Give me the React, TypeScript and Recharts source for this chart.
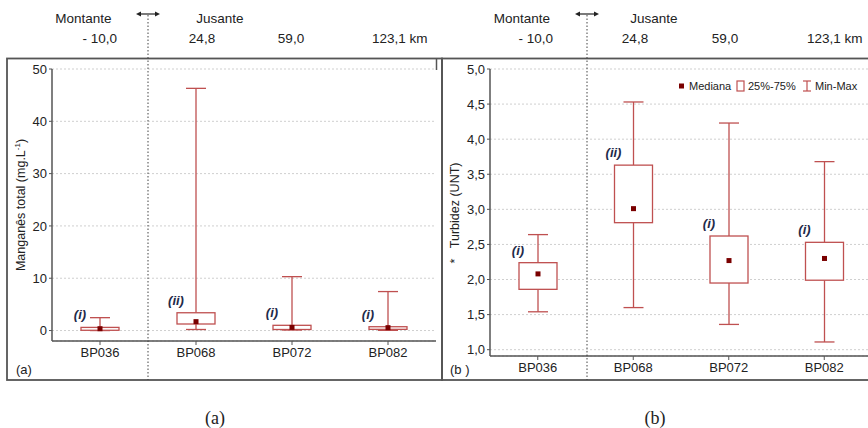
import React from 'react';
import { ComposedChart, Bar, XAxis, YAxis, CartesianGrid } from 'recharts';

// ---------- data ----------
const stations = ['BP036', 'BP068', 'BP072', 'BP082'];
const groupTags = ['(i)', '(ii)', '(i)', '(i)'];
const distanceLabels = ['- 10,0', '24,8', '59,0', '123,1 km'];

// Manganês total (mg.L-1)
const mnMin = [0.0, 0.2, 0.1, 0.04];
const mnQ1 = [0.05, 1.25, 0.2, 0.23];
const mnMedian = [0.35, 1.7, 0.6, 0.55];
const mnQ3 = [0.6, 3.4, 1.0, 0.73];
const mnMax = [2.46, 46.3, 10.3, 7.45];
const mnTicks = [0, 10, 20, 30, 40, 50];

// Turbidez (UNT)
const tuMin = [1.54, 1.6, 1.36, 1.11];
const tuQ1 = [1.86, 2.81, 1.95, 1.99];
const tuMedian = [2.08, 3.01, 2.27, 2.3];
const tuQ3 = [2.24, 3.63, 2.62, 2.53];
const tuMax = [2.64, 4.53, 4.23, 3.68];
const tuTicks = [1, 1.5, 2, 2.5, 3, 3.5, 4, 4.5, 5];

const legendItems = ['Mediana', '25%-75%', 'Min-Max'];

// ---------- styles ----------
const FONT = '"Liberation Sans", Arial, Helvetica, sans-serif';
const SERIF = '"Liberation Serif", "DejaVu Serif", serif';
const BOX = '#bf5050';
const MED = '#7a0000';
const TAG = '#1f2b4a';
const AXIS = '#555';
const TXT = '#222';

function makeRows(mins: number[], q1s: number[], meds: number[], q3s: number[], maxs: number[]) {
  return stations.map((name, i) => ({
    name,
    tag: groupTags[i],
    range: [mins[i], maxs[i]],
    min: mins[i],
    q1: q1s[i],
    median: meds[i],
    q3: q3s[i],
    max: maxs[i],
  }));
}

const mnRows = makeRows(mnMin, mnQ1, mnMedian, mnQ3, mnMax);
const tuRows = makeRows(tuMin, tuQ1, tuMedian, tuQ3, tuMax);

const BoxShape = (props: any) => {
  const { x, y, width, height, payload } = props;
  if (!payload || x == null) return null;
  const top = Math.min(y, y + height);
  const bottom = Math.max(y, y + height);
  const { min, max, q1, median, q3, tag } = payload;
  const span = max - min || 1;
  const px = (v: number) => bottom - ((v - min) / span) * (bottom - top);
  const cx = x + width / 2;
  const cap = 10;
  const yQ1 = px(q1);
  const yQ3 = px(q3);
  const yMed = px(median);
  return (
    <g>
      <line x1={cx} x2={cx} y1={top} y2={yQ3} stroke={BOX} strokeWidth={1.3} />
      <line x1={cx} x2={cx} y1={yQ1} y2={bottom} stroke={BOX} strokeWidth={1.3} />
      <line x1={cx - cap} x2={cx + cap} y1={top} y2={top} stroke={BOX} strokeWidth={1.3} />
      <line x1={cx - cap} x2={cx + cap} y1={bottom} y2={bottom} stroke={BOX} strokeWidth={1.3} />
      <rect x={x} y={yQ3} width={width} height={Math.max(yQ1 - yQ3, 0.8)} fill="#fff" stroke={BOX} strokeWidth={1.3} />
      <rect x={cx - 2.5} y={yMed - 2.5} width={5} height={5} fill={MED} />
      <text
        x={cx - 20}
        y={yQ3 - 8}
        textAnchor="middle"
        fontStyle="italic"
        fontWeight={700}
        fontSize={13}
        fontFamily={FONT}
        fill={TAG}
      >
        {tag}
      </text>
    </g>
  );
};

const tickStyle = { fontSize: 13, fill: TXT, fontFamily: FONT };

function BoxChart(props: {
  rows: any[];
  domain: [number, number];
  ticks: number[];
  width: number;
  margin: any;
  yWidth: number;
  fmt: (v: number) => string;
}) {
  const { rows, domain, ticks, width, margin, yWidth, fmt } = props;
  return (
    <ComposedChart width={width} height={428} data={rows} margin={margin}>
      <CartesianGrid horizontal vertical={false} stroke="#cfcfcf" strokeDasharray="2 2" />
      <XAxis
        dataKey="name"
        height={30}
        tick={tickStyle}
        tickSize={4}
        tickMargin={3}
        axisLine={{ stroke: AXIS, strokeWidth: 1.5 }}
        tickLine={{ stroke: AXIS }}
      />
      <XAxis
        xAxisId="top"
        dataKey="name"
        orientation="top"
        height={0}
        tick={false}
        tickLine={false}
        axisLine={{ stroke: AXIS, strokeWidth: 1.5 }}
      />
      <YAxis
        domain={domain}
        ticks={ticks}
        type="number"
        allowDataOverflow
        width={yWidth}
        tick={tickStyle}
        tickSize={3}
        tickMargin={2}
        tickFormatter={fmt}
        axisLine={{ stroke: AXIS, strokeWidth: 1.5 }}
        tickLine={{ stroke: AXIS }}
      />
      <YAxis
        yAxisId="right"
        orientation="right"
        domain={domain}
        type="number"
        width={0}
        tick={false}
        tickLine={false}
        axisLine={{ stroke: AXIS, strokeWidth: 1.5 }}
      />
      <Bar dataKey="range" barSize={38} isAnimationActive={false} shape={(p: any) => <BoxShape {...p} />} />
    </ComposedChart>
  );
}

const Overlay = () => {
  const t = { fontFamily: FONT, fontSize: 13.5, fill: TXT } as any;
  const arrow = (cx: number) => (
    <g>
      <line x1={cx - 10} x2={cx + 10} y1={14} y2={14} stroke="#222" strokeWidth={1.2} />
      <path d={`M${cx - 12} 14 L${cx - 7} 11.5 L${cx - 7} 16.5 Z`} fill="#222" />
      <path d={`M${cx + 12} 14 L${cx + 7} 11.5 L${cx + 7} 16.5 Z`} fill="#222" />
      <line x1={cx} x2={cx} y1={15} y2={380} stroke="#444" strokeWidth={1} strokeDasharray="1.5 2" />
    </g>
  );
  return (
    <svg width={868} height={428} style={{ position: 'absolute', left: 0, top: 0, pointerEvents: 'none' }}>
      {/* frames */}
      <rect x={7} y={58.5} width={435} height={321.5} fill="none" stroke={AXIS} strokeWidth={1.8} />
      <rect x={442} y={58.5} width={440} height={321.5} fill="none" stroke={AXIS} strokeWidth={1.8} />
      <line x1={436.5} x2={436.5} y1={58.5} y2={70} stroke={AXIS} strokeWidth={1.5} />

      {/* separators */}
      {arrow(148)}
      {arrow(587)}

      {/* top labels, left */}
      <text x={83.5} y={23} textAnchor="middle" {...t}>Montante</text>
      <text x={220} y={23} textAnchor="middle" {...t}>Jusante</text>
      <text x={117} y={43} textAnchor="end" {...t}>{distanceLabels[0]}</text>
      <text x={202} y={43} textAnchor="middle" {...t}>{distanceLabels[1]}</text>
      <text x={291} y={43} textAnchor="middle" {...t}>{distanceLabels[2]}</text>
      <text x={372} y={43} textAnchor="start" {...t}>{distanceLabels[3]}</text>

      {/* top labels, right */}
      <text x={522} y={23} textAnchor="middle" {...t}>Montante</text>
      <text x={654} y={23} textAnchor="middle" {...t}>Jusante</text>
      <text x={553} y={43} textAnchor="end" {...t}>{distanceLabels[0]}</text>
      <text x={635} y={43} textAnchor="middle" {...t}>{distanceLabels[1]}</text>
      <text x={725} y={43} textAnchor="middle" {...t}>{distanceLabels[2]}</text>
      <text x={807} y={43} textAnchor="start" {...t}>{distanceLabels[3]}</text>

      {/* axis titles */}
      <text
        x={21}
        y={205}
        transform="rotate(-90 21 205)"
        textAnchor="middle"
        dominantBaseline="central"
        fontFamily={FONT}
        fontSize={12.5}
        fill={TXT}
      >
        Manganês total (mg.L<tspan dy={-4} fontSize={8}>-1</tspan><tspan dy={4}>)</tspan>
      </text>
      <text
        x={455}
        y={213}
        transform="rotate(-90 455 213)"
        textAnchor="middle"
        dominantBaseline="central"
        fontFamily={FONT}
        fontSize={12.5}
        fill={TXT}
      >
        *{'\u00a0\u00a0\u00a0'}Turbidez (UNT)
      </text>

      {/* panel tags */}
      <text x={16} y={374} {...t} fontSize={13}>(a)</text>
      <text x={450} y={374} {...t} fontSize={13}>(b{'\u00a0'})</text>

      {/* legend */}
      <rect x={679} y={83.5} width={5} height={5} fill={MED} />
      <text x={689} y={90} fontFamily={FONT} fontSize={11} fill={TXT}>{legendItems[0]}</text>
      <rect x={737} y={81} width={7} height={10} fill="#fff" stroke={BOX} strokeWidth={1.2} />
      <text x={748} y={90} fontFamily={FONT} fontSize={11} fill={TXT}>{legendItems[1]}</text>
      <line x1={803} x2={811} y1={81} y2={81} stroke={BOX} strokeWidth={1.2} />
      <line x1={807} x2={807} y1={81} y2={91} stroke={BOX} strokeWidth={1.2} />
      <line x1={803} x2={811} y1={91} y2={91} stroke={BOX} strokeWidth={1.2} />
      <text x={815} y={90} fontFamily={FONT} fontSize={11} fill={TXT}>{legendItems[2]}</text>

      {/* captions */}
      <text x={215} y={424} textAnchor="middle" fontFamily={SERIF} fontSize={18} fill={TXT}>(a)</text>
      <text x={655} y={424} textAnchor="middle" fontFamily={SERIF} fontSize={18} fill={TXT}>(b)</text>
    </svg>
  );
};

export default function App() {
  return (
    <div style={{ position: 'absolute', left: 0, top: 0, width: 868, height: 428, overflow: 'hidden', background: '#fff' }}>
      <div style={{ position: 'absolute', left: 0, top: 0 }}>
        <BoxChart
          rows={mnRows}
          domain={[-2, 50]}
          ticks={mnTicks}
          width={440}
          margin={{ top: 69, right: 4, bottom: 57, left: 0 }}
          yWidth={52}
          fmt={(v: number) => String(v)}
        />
      </div>
      <div style={{ position: 'absolute', left: 440, top: 0 }}>
        <BoxChart
          rows={tuRows}
          domain={[0.91, 5]}
          ticks={tuTicks}
          width={440}
          margin={{ top: 69, right: 8, bottom: 42, left: 0 }}
          yWidth={50}
          fmt={(v: number) => v.toFixed(1).replace('.', ',')}
        />
      </div>
      <Overlay />
    </div>
  );
}
